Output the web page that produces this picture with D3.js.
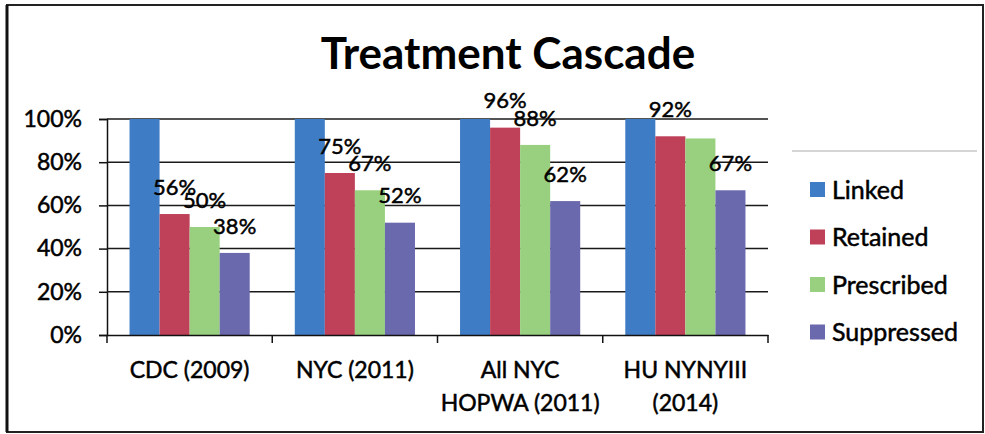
<!DOCTYPE html>
<html>
<head>
<meta charset="utf-8">
<script src="https://cdn.jsdelivr.net/npm/d3@7"></script>
<style>
	body { margin: 0; background: #fff; }
	svg text { font-family: Lato, "Open Sans", sans-serif; fill: #000; }
	svg text.heavy { stroke: #000; stroke-width: 0.5px; }
</style>
</head>
<body>
<svg id="chart"></svg>
<script>
// data
const categories = [["CDC (2009)"], ["NYC (2011)"], ["All NYC", "HOPWA (2011)"], ["HU NYNYIII", "(2014)"]];
const seriesNames = ["Linked", "Retained", "Prescribed", "Suppressed"];
const linked = [100, 100, 100, 100];
const retained = [56, 75, 96, 92];
const prescribed = [50, 67, 88, 91];
const suppressed = [38, 52, 62, 67];
// labels printed above bars (Linked has none, HU prescribed has none)
const retainedLabels = ["56%", "75%", "96%", "92%"];
const prescribedLabels = ["50%", "67%", "88%", ""];
const suppressedLabels = ["38%", "52%", "62%", "67%"];
const yTicks = [0, 20, 40, 60, 80, 100];
const colors = ["#3f7cc6", "#bf4159", "#98d07f", "#6b69ad"];

const width = 985;
const height = 434;

const svg = d3.select("#chart")
              .attr("width", width)
              .attr("height", height);

// frame
svg.append("rect")
   .attr("x", 7).attr("y", 5)
   .attr("width", 976).attr("height", 427)
   .attr("fill", "none")
   .attr("stroke", "#222")
   .attr("stroke-width", 2);
svg.append("line")
   .attr("x1", 7).attr("x2", 7).attr("y1", 5).attr("y2", 432)
   .attr("stroke", "#111").attr("stroke-width", 3);

// title
svg.append("text")
   .attr("x", 508)
   .attr("y", 69)
   .attr("text-anchor", "middle")
   .attr("font-size", 44)
   .attr("font-weight", "bold")
   .text("Treatment Cascade");

const values = [linked, retained, prescribed, suppressed];
const labels = [null, retainedLabels, prescribedLabels, suppressedLabels];
const X = d3.map(categories, d => d.join(" "));
const Z = d3.range(seriesNames.length);

const xScale = d3.scaleBand(X, [107, 768]).padding(0);
const xzScale = d3.scaleBand(Z, [0, xScale.bandwidth()]).paddingInner(0).paddingOuter(0.75);
const yScale = d3.scaleLinear([0, 100], [335, 119]);

// y axis + grid
svg.append("g")
   .attr("transform", "translate(107,0)")
   .call(d3.axisLeft(yScale).tickValues(yTicks).tickFormat(d => d + "%").tickSize(8).tickPadding(17))
   .call(g => g.select(".domain").attr("stroke", "#111").attr("stroke-width", 1.5))
   .call(g => g.selectAll(".tick line").attr("stroke", "#111").attr("stroke-width", 1.5))
   .call(g => g.selectAll(".tick text")
               .attr("class", "heavy")
               .attr("font-size", 23)
               .attr("font-family", "Lato, sans-serif")
               .attr("fill", "#000"));

svg.append("g")
   .selectAll("line")
   .data(yTicks.filter(d => d > 0))
   .join("line")
   .attr("x1", 107).attr("x2", 768)
   .attr("y1", d => yScale(d)).attr("y2", d => yScale(d))
   .attr("stroke", "#1a1a1a")
   .attr("stroke-width", 1.5);

// bars
for (const z of Z) {
	svg.append("g")
	   .selectAll("rect")
	   .data(X)
	   .join("rect")
	   .attr("x", (d, i) => xScale(X[i]) + xzScale(z))
	   .attr("y", (d, i) => yScale(values[z][i]))
	   .attr("width", xzScale.bandwidth())
	   .attr("height", (d, i) => yScale(0) - yScale(values[z][i]))
	   .attr("fill", colors[z]);
}

// x axis
svg.append("g")
   .attr("transform", `translate(0,${yScale(0)})`)
   .call(d3.axisBottom(xScale).tickSize(0).tickFormat(""))
   .call(g => g.select(".domain").attr("stroke", "#111").attr("stroke-width", 1.5));

svg.append("g")
   .selectAll("line")
   .data(d3.range(X.length + 1))
   .join("line")
   .attr("x1", i => i < X.length ? xScale(X[i]) : xScale(X[X.length - 1]) + xScale.bandwidth())
   .attr("x2", i => i < X.length ? xScale(X[i]) : xScale(X[X.length - 1]) + xScale.bandwidth())
   .attr("y1", yScale(0)).attr("y2", yScale(0) + 8)
   .attr("stroke", "#111")
   .attr("stroke-width", 1.5);

svg.append("g")
   .selectAll("text")
   .data(categories)
   .join("text")
   .attr("class", "heavy")
   .attr("x", (d, i) => xScale(X[i]) + xScale.bandwidth() / 2)
   .attr("y", 378)
   .attr("text-anchor", "middle")
   .attr("font-size", 23)
   .call(t => t.selectAll("tspan")
               .data(d => d)
               .join("tspan")
               .attr("x", function() { return this.parentNode.getAttribute("x"); })
               .attr("dy", (d, i) => i ? 33 : 0)
               .text(d => d));

// value labels
for (const z of Z) {
	if (!labels[z]) continue;
	svg.append("g")
	   .selectAll("text")
	   .data(labels[z])
	   .join("text")
	   .attr("class", "heavy")
	   .attr("x", (d, i) => xScale(X[i]) + xzScale(z) + xzScale.bandwidth() / 2)
	   .attr("y", (d, i) => yScale(values[z][i]) - 27)
	   .attr("dy", "0.35em")
	   .attr("text-anchor", "middle")
	   .attr("font-size", 22)
	   .text(d => d);
}

// legend
svg.append("line")
   .attr("x1", 792).attr("x2", 977)
   .attr("y1", 151).attr("y2", 151)
   .attr("stroke", "#aaa")
   .attr("stroke-width", 1);

const legend = svg.append("g")
                  .selectAll("g")
                  .data(seriesNames)
                  .join("g")
                  .attr("transform", (d, i) => `translate(810,${190 + i * 47.5})`);

legend.append("rect")
      .attr("x", 0).attr("y", -8)
      .attr("width", 15).attr("height", 15)
      .attr("fill", (d, i) => colors[i]);

legend.append("text")
      .attr("class", "heavy")
      .attr("x", 22)
      .attr("dy", "0.35em")
      .attr("font-size", 25)
      .text(d => d);
</script>
</body>
</html>
